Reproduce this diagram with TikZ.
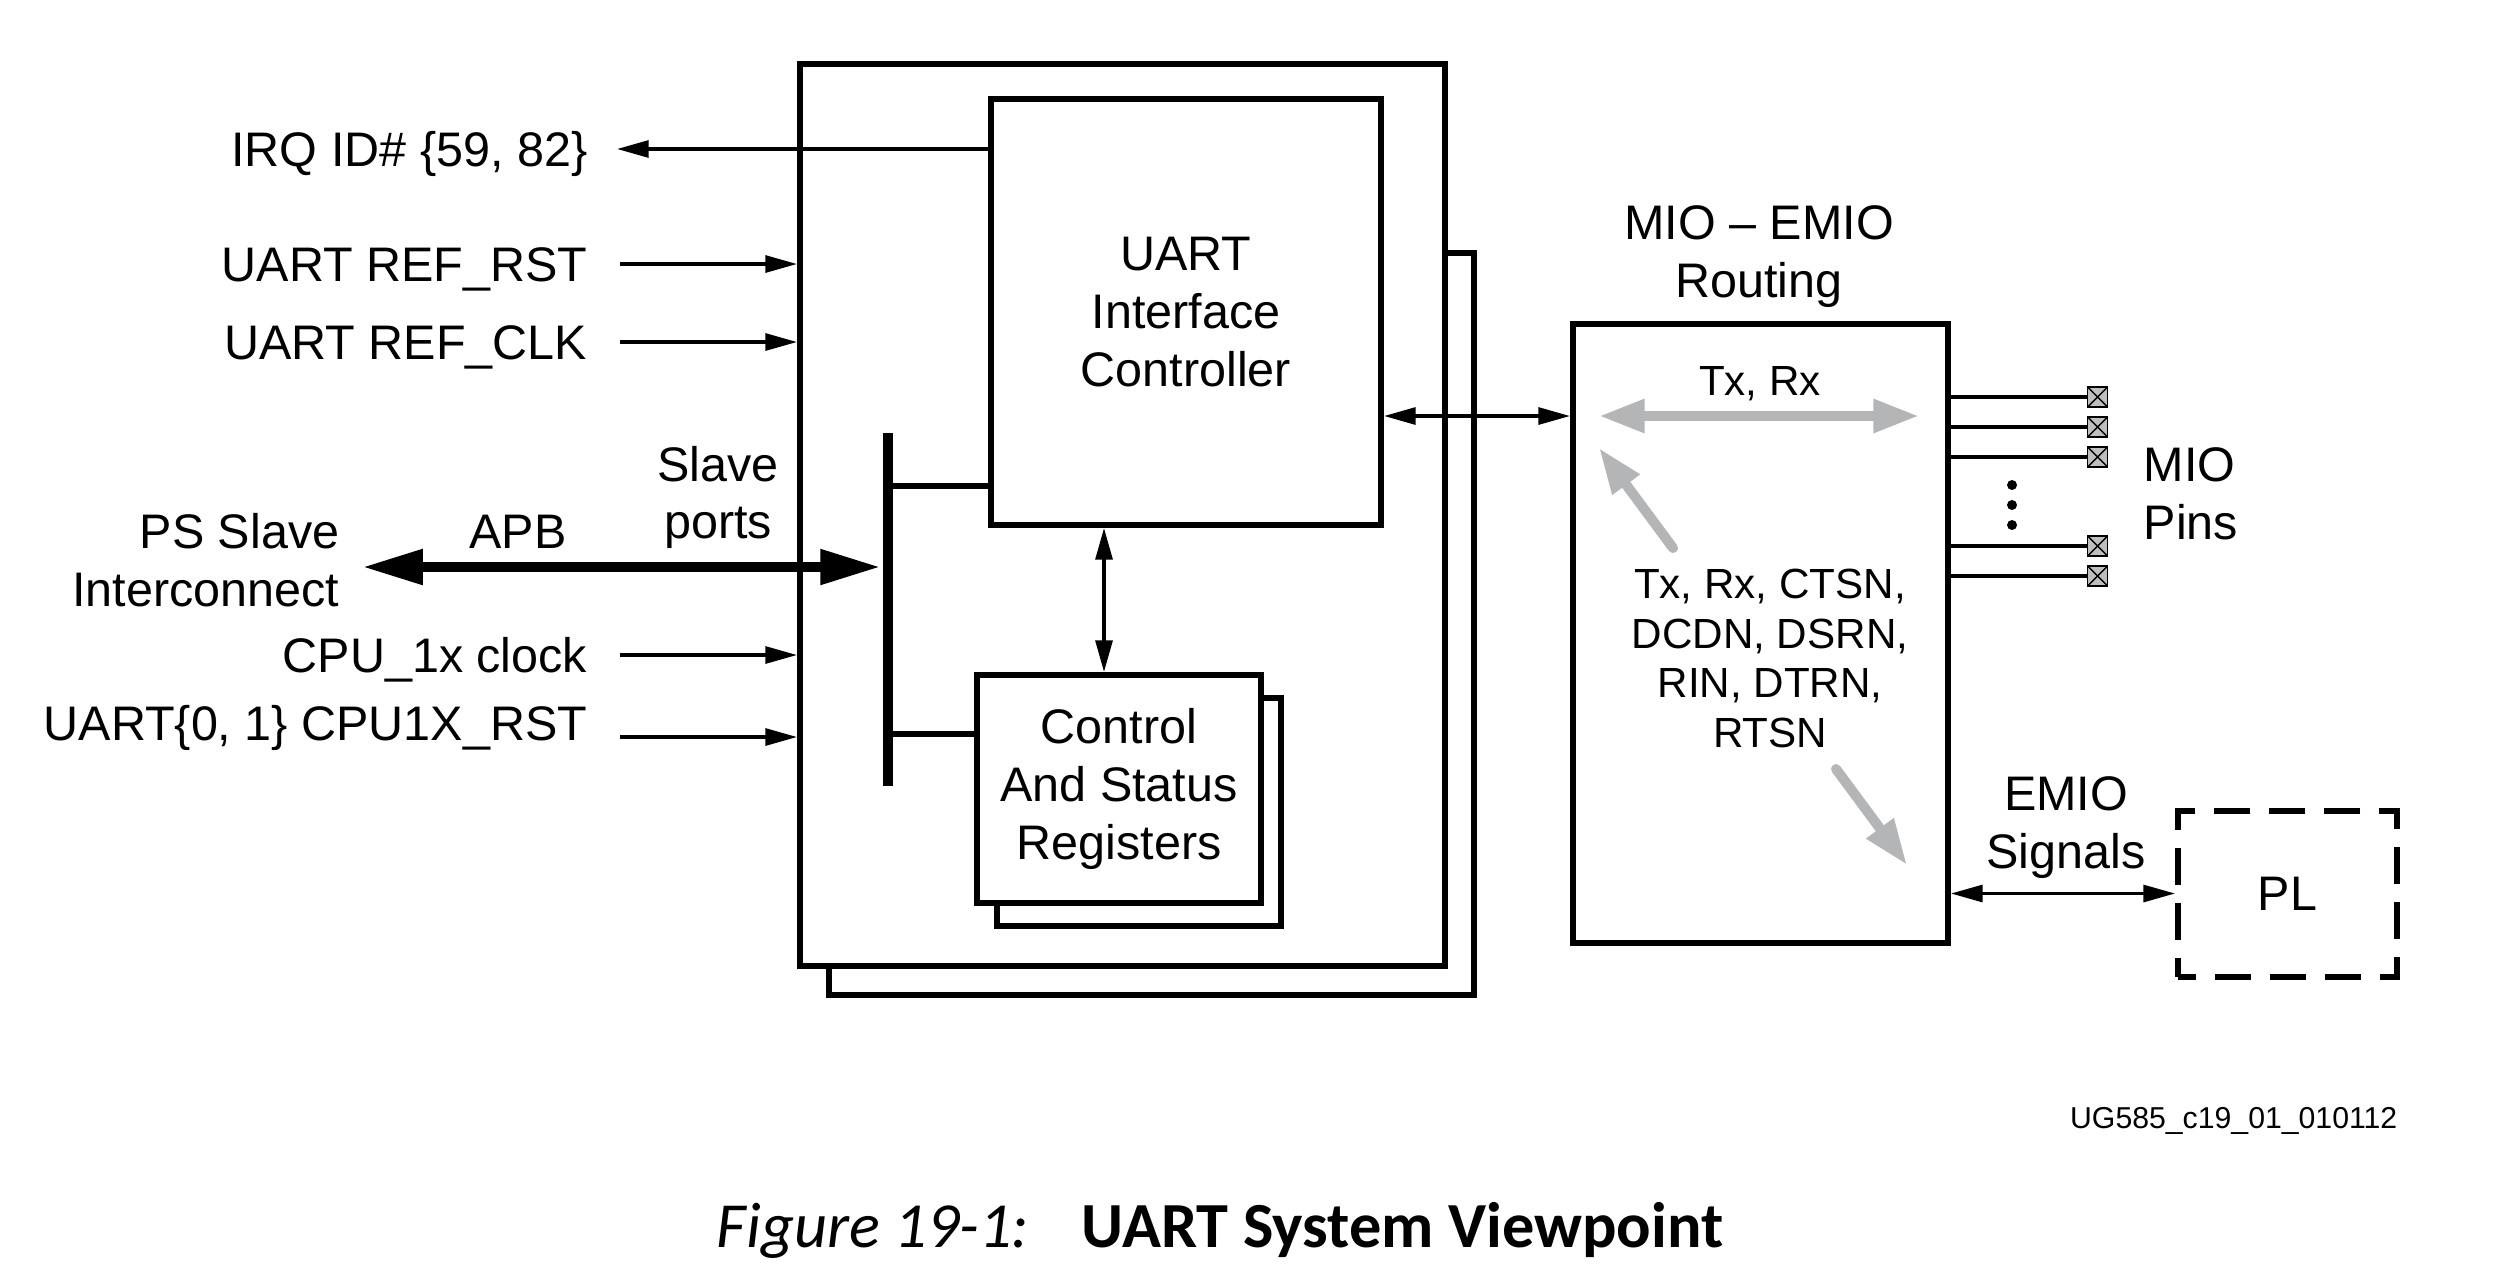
\documentclass[tikz,border=0pt]{standalone}
\usepackage{fontspec}
\setmainfont{Liberation Sans}
\newfontfamily\capfont{Carlito}
\usetikzlibrary{arrows.meta,positioning}

\definecolor{routegray}{RGB}{180,181,183}
\definecolor{pingray}{RGB}{190,190,190}

\tikzset{
  blk/.style={draw, line width=1.7pt, fill=white, inner sep=0pt, align=center,
    font=\fontsize{13.8}{16.6}\selectfont},
  lbl/.style={inner sep=0pt, font=\fontsize{13.8}{16.6}\selectfont, text height=9.9pt, text depth=0pt},
  txt/.style={inner sep=0pt, align=center, font=\fontsize{13.8}{16.4}\selectfont},
  sml/.style={inner sep=0pt, align=center, font=\fontsize{12}{14.2}\selectfont},
  sig/.style={line width=0.95pt, -{Triangle[length=9pt,width=4.8pt]}},
  bisig/.style={line width=0.95pt, {Triangle[length=9pt,width=4.8pt]}-{Triangle[length=9pt,width=4.8pt]}},
  apbbus/.style={line width=2.6pt, {Triangle[length=17pt,width=9.6pt]}-{Triangle[length=17pt,width=9.6pt]}},
  route/.style={line width=2.85pt, draw=routegray, line cap=round, -{Triangle[length=13pt,width=9pt]}},
  biroute/.style={line width=2.85pt, draw=routegray, {Triangle[length=13pt,width=9pt]}-{Triangle[length=13pt,width=9pt]}},
  pin/.style={draw, line width=0.4pt, fill=pingray, minimum size=0.2cm, inner sep=0pt,
    path picture={\draw[line width=0.4pt] (path picture bounding box.north west) -- (path picture bounding box.south east)
      (path picture bounding box.south west) -- (path picture bounding box.north east);}}
}

\begin{document}
\begin{tikzpicture}
  \useasboundingbox (0,0) rectangle (25.12,-12.64);

  % Draw UART block (two instances)
  \node[blk, minimum width=6.45cm, minimum height=7.42cm] (uartback) at (11.515,-6.24) {};
  \node[blk, minimum width=6.45cm, minimum height=9.02cm] (uart) at (11.225,-5.15) {};

  % Draw controller and registers
  \node[blk, minimum width=3.90cm, minimum height=4.26cm] (UIC) at (11.86,-3.12) {UART\\Interface\\Controller};
  \node[blk, minimum width=2.84cm, minimum height=2.28cm] (csrback) at (11.39,-8.12) {};
  \node[blk, minimum width=2.84cm, minimum height=2.28cm] (CSR) at (11.19,-7.89) {Control\\And Status\\Registers};
  \draw[bisig] ([xshift=-0.15cm]CSR.north |- UIC.south) -- ([xshift=-0.15cm]CSR.north);

  % Draw slave port bus
  \coordinate (bustop) at (8.88,-4.33);
  \coordinate (busbot) at (8.88,-7.86);
  \coordinate (busA) at (8.88,-4.86);
  \coordinate (busB) at (8.88,-7.34);
  \draw[line width=2.6pt] (bustop) -- (busbot);
  \draw[line width=1.7pt] (busA) -- (busA -| UIC.west);
  \draw[line width=1.7pt] (busB) -- (busB -| CSR.west);

  % Draw left side signals
  \node[lbl, anchor=east] (irq) at (5.88,-1.49) {IRQ ID\# \{59, 82\}};
  \node[lbl, anchor=east] (refrst) at (5.88,-2.64) {UART REF\_RST};
  \node[lbl, anchor=east] (refclk) at (5.88,-3.42) {UART REF\_CLK};
  \node[lbl, anchor=east] (cpuclk) at (5.88,-6.55) {CPU\_1x clock};
  \node[lbl, anchor=east] (cpurst) at (5.88,-7.23) {UART\{0, 1\} CPU1X\_RST};
  \draw[sig] (UIC.west |- irq.east) -- ([xshift=0.29cm]irq.east);
  \draw[sig] ([xshift=0.32cm]refrst.east) -- (refrst.east -| uart.west);
  \draw[sig] ([xshift=0.32cm]refclk.east) -- (refclk.east -| uart.west);
  \draw[sig] ([xshift=0.32cm]cpuclk.east) -- (cpuclk.east -| uart.west);
  \draw[sig] ([xshift=0.32cm,yshift=-0.14cm]cpurst.east) -- ([yshift=-0.14cm]cpurst.east -| uart.west);

  % Draw APB connection
  \node[txt, align=right, anchor=east] (ps) at (3.40,-5.60) {PS Slave\\Interconnect};
  \coordinate (apbL) at (3.63,-5.67);
  \draw[apbbus] (apbL) -- ([xshift=-0.08cm]bustop |- apbL);
  \node[lbl] (apb) at (5.18,-5.31) {APB};
  \node[txt] (slave) at (7.18,-4.975) {Slave\\ports};

  % Draw MIO - EMIO routing
  \node[blk, minimum width=3.75cm, minimum height=6.19cm] (MIO) at (17.605,-6.335) {};
  \node[txt] (miolbl) at (17.59,-2.565) {MIO \textendash{} EMIO\\Routing};
  \coordinate (txL) at (15.99,-4.16);
  \coordinate (txR) at (19.19,-4.16);
  \draw[biroute] (txL) -- (txR);
  \node[sml, text height=8.6pt, text depth=0pt] (txrx) at (17.60,-3.80) {Tx, Rx};
  \draw[bisig] (UIC.east |- txL) -- (MIO.west |- txL);
  \coordinate (upT) at (16.73,-5.48);
  \coordinate (upH) at (15.99,-4.48);
  \draw[route] (upT) -- (upH);
  \node[sml] (sigs) at (17.70,-6.585) {Tx, Rx, CTSN,\\DCDN, DSRN,\\RIN, DTRN,\\RTSN};
  \coordinate (dnT) at (18.36,-7.69);
  \coordinate (dnH) at (19.07,-8.65);
  \draw[route] (dnT) -- (dnH);

  % Draw MIO pins
  \foreach \n/\y in {1/3.97,2/4.27,3/4.57,4/5.46,5/5.76}
    \node[pin] (pin\n) at (20.975,-\y) {};
  \foreach \n in {1,...,5}
    \draw[line width=1.15pt] (MIO.east |- pin\n) -- (pin\n.west);
  \foreach \y in {4.85,5.05,5.25}
    \fill (20.12,-\y) circle (0.05);
  \node[txt, align=left, anchor=west] (pinlbl) at (21.43,-4.935) {MIO\\Pins};

  % Draw PL
  \node[blk, dash pattern=on 0.367cm off 0.183cm, dash phase=0.183cm,
    minimum width=2.19cm, minimum height=1.66cm] (PL) at (22.875,-8.935) {PL};
  \draw[bisig] (MIO.east |- PL.west) -- (PL.west);
  \node[txt] (emio) at (20.66,-8.275) {EMIO\\Signals};

  % Figure id and caption
  \node[anchor=base east, font=\fontsize{8.6}{10}\selectfont, inner sep=0pt] (figid) at (23.98,-11.28) {UG585\_c19\_01\_010112};
  \node[anchor=base, font=\capfont\fontsize{18.3}{22}\selectfont, inner sep=0pt] (caption) at (12.20,-12.47)
    {\textit{Figure 19-1:}\hspace{15pt}\textbf{UART System Viewpoint}};
\end{tikzpicture}
\end{document}
